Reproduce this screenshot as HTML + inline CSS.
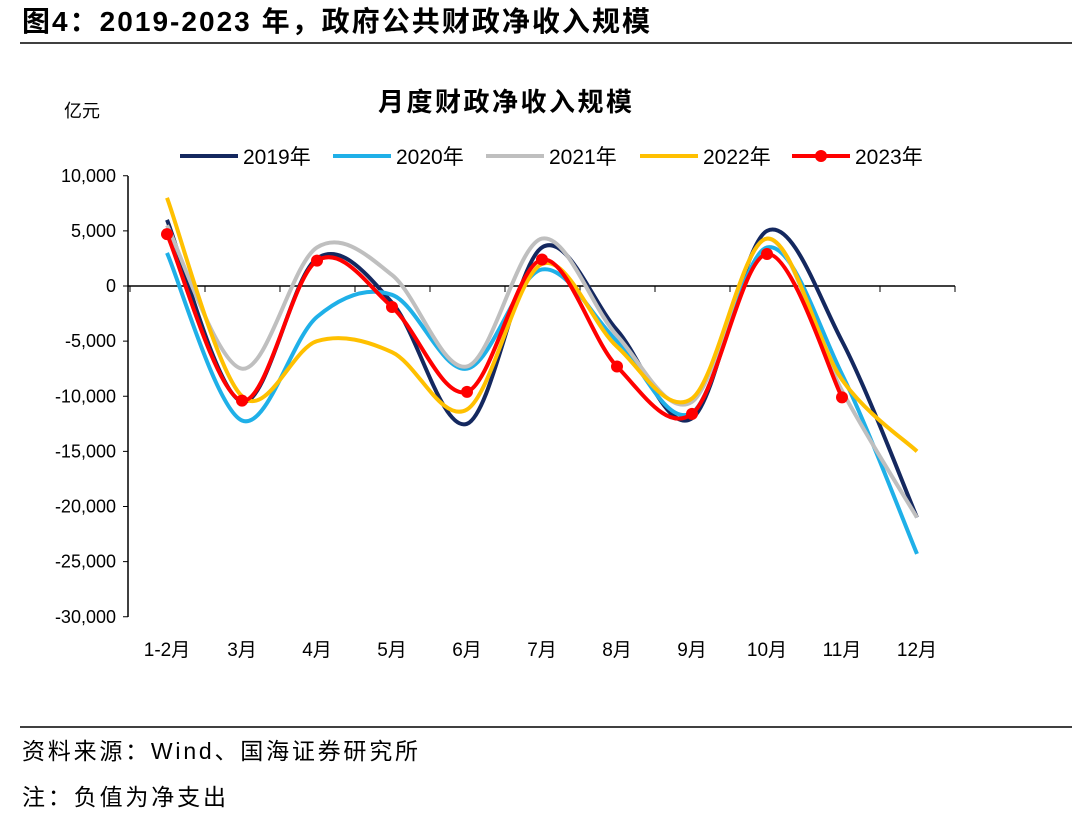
<!DOCTYPE html>
<html><head><meta charset="utf-8"><style>
body{margin:0;background:#fff;width:1080px;height:817px;overflow:hidden;font-family:"Liberation Sans","Noto Sans CJK SC",sans-serif;}
svg text{font-family:"Liberation Sans","Noto Sans CJK SC",sans-serif;}
</style></head><body>
<svg id="c" width="1080" height="817">
<text x="22" y="31" font-size="28" font-weight="bold" fill="#000" textLength="628" lengthAdjust="spacing">图4：2019-2023 年，政府公共财政净收入规模</text>
<line x1="20" y1="43" x2="1072" y2="43" stroke="#000" stroke-width="1.5"/>
<text x="378" y="111" font-size="26" font-weight="bold" textLength="254" lengthAdjust="spacing">月度财政净收入规模</text>
<text x="64" y="117" font-size="18">亿元</text>
<line x1="20" y1="727" x2="1072" y2="727" stroke="#000" stroke-width="1.5"/>
<text x="22" y="759" font-size="23" textLength="396" lengthAdjust="spacing">资料来源：Wind、国海证券研究所</text>
<text x="22" y="805" font-size="23" textLength="204" lengthAdjust="spacing">注：负值为净支出</text>
<g id="axes"></g><g id="series"></g><g id="legend"></g>
</svg>
<script>
const categories=["1-2月","3月","4月","5月","6月","7月","8月","9月","10月","11月","12月"];
const yTicks=[10000,5000,0,-5000,-10000,-15000,-20000,-25000,-30000];
const yTickLabels=["10,000","5,000","0","-5,000","-10,000","-15,000","-20,000","-25,000","-30,000"];
const seriesNames=["2019年","2020年","2021年","2022年","2023年"];
const s2019=[6000,-10500,2500,-1500,-12500,3500,-4000,-12000,5000,-5000,-21000];
const s2020=[3000,-12200,-2800,-800,-7500,1500,-5000,-11500,3500,-8000,-24300];
const s2021=[5500,-7500,3500,1000,-7300,4300,-4500,-10500,4300,-9500,-21000];
const s2022=[8000,-10000,-5000,-6000,-11200,2000,-5500,-10200,4300,-8500,-15000];
const s2023=[4700,-10400,2300,-1900,-9600,2400,-7300,-11600,2900,-10100];
const colors=["#14285f","#1fb0e8","#bfbfbf","#ffc000","#ff0000"];
const NS="http://www.w3.org/2000/svg";
const x=i=>167+i*75;
const y=v=>286-v*0.011025;
function mk(t,a,p){const e=document.createElementNS(NS,t);for(const k in a)e.setAttribute(k,a[k]);p.appendChild(e);return e;}
const ax=document.getElementById('axes');
const yl=mk('line',{x1:128,y1:176,x2:128,y2:617,stroke:'#000','stroke-width':1.5},ax);


yTicks.forEach((t,i)=>{
 mk('line',{x1:123,y1:y(t),x2:128,y2:y(t),stroke:'#000'},ax);
 const tx=mk('text',{x:116,y:y(t)+6,'font-size':18,'text-anchor':'end'},ax);tx.textContent=yTickLabels[i];
 
 
});
const xl=mk('line',{x1:128,y1:y(0),x2:955,y2:y(0),stroke:'#000','stroke-width':1.5},ax);


for(let i=0;i<=categories.length;i++)mk('line',{x1:130+i*75,y1:y(0),x2:130+i*75,y2:y(0)+6,stroke:'#000'},ax);
categories.forEach((c,i)=>{const tx=mk('text',{x:x(i),y:656,'font-size':19,'text-anchor':'middle'},ax);tx.textContent=c;
 
 });
function smooth(d){const p=d.map((v,i)=>[x(i),y(v)]);let s=`M${p[0][0]},${p[0][1]}`;
 for(let i=0;i<p.length-1;i++){const p0=p[i-1]||p[i],p1=p[i],p2=p[i+1],p3=p[i+2]||p2;const t=6;
 s+=` C${p1[0]+(p2[0]-p0[0])/t},${p1[1]+(p2[1]-p0[1])/t} ${p2[0]-(p3[0]-p1[0])/t},${p2[1]-(p3[1]-p1[1])/t} ${p2[0]},${p2[1]}`;}return s;}
const sg=document.getElementById('series');
[s2019,s2020,s2021,s2022,s2023].forEach((d,k)=>{
 const pa=mk('path',{d:smooth(d),fill:'none',stroke:colors[k],'stroke-width':4},sg);
 
 
});
s2023.forEach((v,i)=>{const c=mk('circle',{cx:x(i),cy:y(v),r:6,fill:'#ff0000'},sg);
 
 });
const lg=document.getElementById('legend');
const lx=[180,333,486,640,792];
seriesNames.forEach((n,k)=>{
 const g=mk('g',{},lg);
 
 
 mk('line',{x1:lx[k],y1:156,x2:lx[k]+58,y2:156,stroke:colors[k],'stroke-width':4},g);
 if(k==4)mk('circle',{cx:lx[k]+29,cy:156,r:6,fill:'#ff0000'},g);
 const t=mk('text',{x:lx[k]+63,y:164,'font-size':21},g);t.textContent=n;
});
</script>
</body></html>
